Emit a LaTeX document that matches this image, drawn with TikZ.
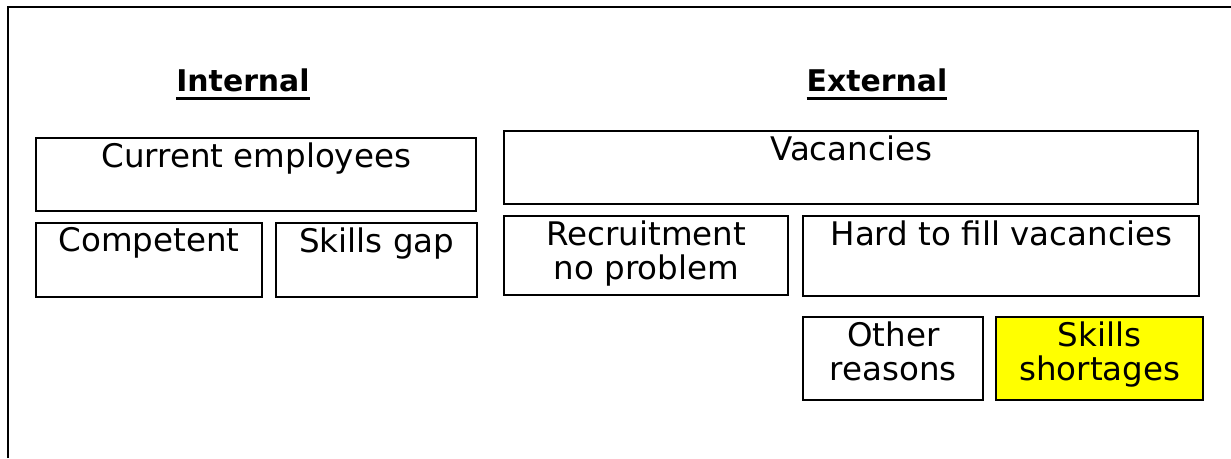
\documentclass[tikz,border=0pt]{standalone}
\usepackage{fontspec}
\setmainfont{DejaVu Sans}
\usetikzlibrary{positioning}
\newlength{\px}
\setlength{\px}{0.02cm}
\definecolor{shortyellow}{RGB}{255,255,0}
\newcommand{\headunder}[1]{\vtop{\hbox{#1}\kern 3.2pt\hrule height 1.3pt}}

\begin{document}
\begin{tikzpicture}[x=0.02cm, y=-0.02cm,
    box_node/.style={draw, line width=1.4pt, rectangle, anchor=north west, inner sep=0pt},
    top_lbl/.style={anchor=north, inner sep=0pt, yshift=-3pt, align=center,
        font=\fontsize{18.5}{19.5}\selectfont},
    head_node/.style={font=\fontsize{17}{19}\selectfont\bfseries}]

    \useasboundingbox (0, 0) rectangle (1231, 458);
    \draw[line width=1.3pt] (8, 458) -- (8, 7) -- (1231, 7);

    \node[head_node] (int) at (243, 84) {\headunder{Internal}};
    \node[head_node] (ext) at (877, 84) {\headunder{External}};

    % internal side
    \node[box_node, minimum width=440\px, minimum height=73\px,
        label={[top_lbl]north:Current employees}] (cur) at (35, 137) {};
    \node[box_node, minimum width=226\px, minimum height=74\px,
        label={[top_lbl]north:Competent}] (comp) at (35, 222) {};
    \node[box_node, minimum width=201\px, minimum height=74\px,
        label={[top_lbl]north:Skills gap}] (gap) at (275, 222) {};

    % external side
    \node[box_node, minimum width=694\px, minimum height=73\px,
        label={[top_lbl]north:Vacancies}] (vac) at (503, 130) {};
    \node[box_node, minimum width=284\px, minimum height=79\px,
        label={[top_lbl]north:Recruitment\\no problem}] (easy) at (503, 215) {};
    \node[box_node, minimum width=396\px, minimum height=80\px,
        label={[top_lbl]north:Hard to fill vacancies}] (hard) at (802, 215) {};
    \node[box_node, minimum width=180\px, minimum height=83\px,
        label={[top_lbl]north:Other\\reasons}] (other) at (802, 316) {};
    \node[box_node, minimum width=207\px, minimum height=83\px, fill=shortyellow,
        label={[top_lbl]north:Skills\\shortages}] (short) at (995, 316) {};

\end{tikzpicture}
\end{document}
